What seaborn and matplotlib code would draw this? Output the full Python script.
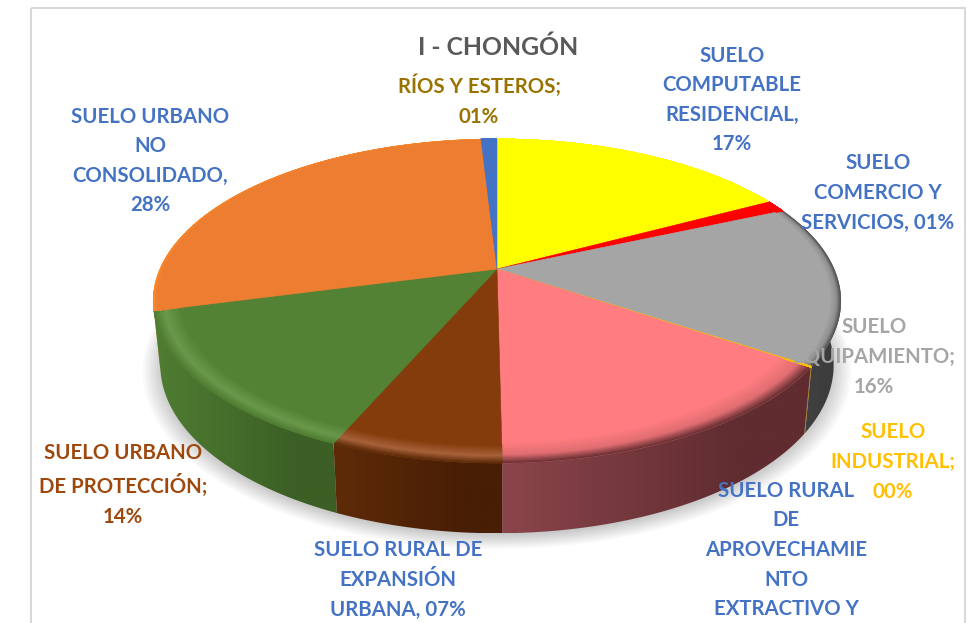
import numpy as np
import matplotlib
matplotlib.use("Agg")
import matplotlib.pyplot as plt
import seaborn as sns
from matplotlib.colors import to_rgb
from matplotlib.patches import Polygon, Rectangle
from matplotlib.path import Path
from matplotlib.transforms import Affine2D, Transform

# ---- data ----
slice_names = ["Computable residencial", "Comercio y servicios", "Equipamiento", "Industrial",
               "Rural de aprovechamiento", "Rural de expansion", "Urbano de proteccion",
               "Urbano no consolidado", "Rios y esteros"]
slice_values = [17.2, 1.2, 16.0, 0.08, 15.32, 6.7, 14.4, 28.2, 0.9]
slice_colors = ["#ffff00", "#ff0000", "#a5a5a5", "#ffc000", "#ff7c80", "#843c0c", "#548235", "#ed7d31", "#4472c4"]
rim_mid = ["#ffff00", "#ff0000", "#8f8f8f", "#ffc000", "#e06e72", "#a8623a", "#6b994c", "#f5852f", "#4472c4"]
rim_edge = ["#ffff00", "#ff0000", "#505050", "#ffc000", "#6a3034", "#5e2b08", "#4f7d32", "#ff8c2a", "#4472c4"]
rim_width = [0.0, 0.0, 0.03, 0.0, 0.085, 0.075, 0.075, 0.015, 0.0]
side_left = ["#cccc00", "#cc0000", "#484848", "#a88000", "#8a454b", "#5e2b08", "#4f7d32", "#ff8c2a", "#365b9c"]
side_right = ["#cccc00", "#cc0000", "#3c3c3c", "#a88000", "#602c30", "#481e05", "#3c5f25", "#ed7d31", "#365b9c"]

title_text = "I - CHONGÓN"
label_texts = ["SUELO\nCOMPUTABLE\nRESIDENCIAL,\n17%", "SUELO\nCOMERCIO Y\nSERVICIOS, 01%",
               "SUELO\nEQUIPAMIENTO;\n16%", "SUELO\nINDUSTRIAL;\n00%",
               "SUELO RURAL\nDE\nAPROVECHAMIE\nNTO\nEXTRACTIVO Y",
               "SUELO RURAL DE\nEXPANSIÓN\nURBANA, 07%", "SUELO URBANO\nDE PROTECCIÓN;\n14%",
               "SUELO URBANO\nNO\nCONSOLIDADO,\n28%", "RÍOS Y ESTEROS;\n01%"]
label_colors = ["#4472c4", "#4472c4", "#a5a5a5", "#ffc000", "#4472c4", "#4472c4", "#9e480e", "#4472c4", "#997300"]
label_x = [732, 878, 874, 893, 786, 398, 123, 150, 479]
label_y = [100, 193, 357, 462, 550, 580, 485, 161, 101]


class Tilt(Transform):
    """Perspective view of the unit-circle pie, output in figure pixels."""
    input_dims = 2
    output_dims = 2

    def __init__(self, a, b, k, cx, cy):
        super().__init__()
        self.a, self.b, self.k, self.cx, self.cy = a, b, k, cx, cy

    def transform_non_affine(self, pts):
        pts = np.asarray(pts, float)
        d = 1 + self.k * pts[:, 1]
        return np.column_stack([self.cx + self.a * pts[:, 0] / d, self.cy - self.b * pts[:, 1] / d])

    def transform_path_non_affine(self, path):
        big = path.transformed(Affine2D().scale(2000))
        polys = big.to_polygons(closed_only=True)
        return Path(self.transform_non_affine(np.concatenate(polys) / 2000))


sns.set_theme(style="white")
plt.rcParams["font.family"] = ["Lato", "DejaVu Sans"]
fig = plt.figure(figsize=(9.67, 6.23), dpi=100, facecolor="white")
ax = fig.add_axes([0, 0, 1, 1])

top = Tilt(337, 155.7, 0.1975, 497, 269)
low = Tilt(330, 161.5, 0.1975, 497, 332)


def draw_pie(colors, tf, z):
    wedges, _ = ax.pie(slice_values, colors=colors, radius=1.0, startangle=90,
                       counterclock=False, wedgeprops=dict(linewidth=0.4))
    for w in wedges:
        w.set_edgecolor(w.get_facecolor())
        w.set_transform(tf + ax.transData)
        w.set_zorder(z)
    return wedges


def mix(c1, c2, t):
    c1, c2 = np.array(to_rgb(c1)), np.array(to_rgb(c2))
    return tuple((1 - t) * c1 + t * c2)


# soft shadow under the disc
for i, r in enumerate(np.linspace(1.05, 0.99, 10)):
    wedges, _ = ax.pie([1], colors=["#000000"], radius=r, wedgeprops=dict(linewidth=0, alpha=0.022))
    wedges[0].set_transform(Tilt(330, 161.5, 0.1975, 497, 335) + ax.transData)
    wedges[0].set_zorder(1)

# top surface with bevelled rim: nested layers from the rim inward
base = draw_pie(slice_colors, top, 4)
n_steps = 18
for j, t in enumerate(np.linspace(1, 0, n_steps)):
    cols = []
    for c, m, e in zip(slice_colors, rim_mid, rim_edge):
        cols.append(mix(c, m, t / 0.6) if t < 0.6 else mix(m, e, (t - 0.6) / 0.4))
    layer = draw_pie(cols, top, 4 + j * 0.01)
    for w, width in zip(layer, rim_width):
        w.set_radius(1 - (1 - t) * width)

# side wall of each slice, shaded left to right, back slices first
th = np.linspace(0, 1, 120)
for w, cl, cr in zip(base, side_left, side_right):
    ang = np.deg2rad(w.theta1 + (w.theta2 - w.theta1) * th)
    circle = np.column_stack([np.cos(ang), np.sin(ang)])
    upper = top.transform_non_affine(circle)
    lower = low.transform_non_affine(circle)
    ring = np.vstack([upper, lower[::-1]])
    x0, x1 = ring[:, 0].min(), ring[:, 0].max()
    y0, y1 = ring[:, 1].min(), ring[:, 1].max()
    grad = np.array([[mix(cl, cr, min(1, t * 1.3)) for t in np.linspace(0, 1, 64)]])
    im = ax.imshow(grad, extent=[x0, x1 + 0.01, y1, y0 + 0.01], aspect="auto",
                   zorder=2 + ring[:, 1].mean() / 10000, interpolation="bilinear")
    im.set_clip_path(Polygon(ring, closed=True, transform=ax.transData))

# chart frame
ax.add_patch(Rectangle((31, 8), 934, 640, fill=False, edgecolor="#d9d9d9", linewidth=1.5, zorder=0.5, clip_on=True))

ax.set_aspect("auto")
ax.set_xlim(0, 967)
ax.set_ylim(623, 0)
ax.set_axis_off()

ax.text(498, 47, title_text, fontsize=17.8, fontweight="bold", color="#595959", ha="center", va="center", zorder=10)
for s, c, x, y in zip(label_texts, label_colors, label_x, label_y):
    ax.text(x, y, s, fontsize=14.7, fontweight="bold", color=c, ha="center", va="center",
            multialignment="center", linespacing=1.6, zorder=10)

fig.savefig("out.png", dpi=100, facecolor="white")
